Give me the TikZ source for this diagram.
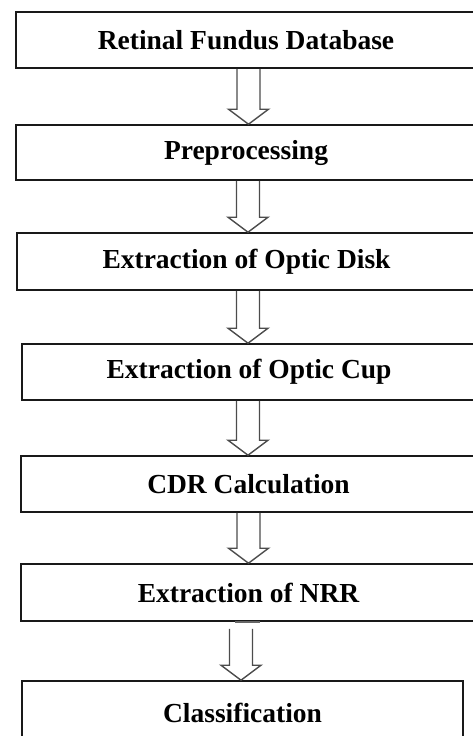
\documentclass[tikz,border=0pt]{standalone}
\usepackage{fontspec}
\setmainfont{Liberation Serif}
\usetikzlibrary{calc}
\tikzset{
  stepbox/.style={draw=black!90, line width=1.6pt, fill=white, inner sep=0pt,
    font=\fontsize{27.5}{30}\selectfont\bfseries, text=black},
  harrow/.style={draw=black!70, line width=1.4pt, line join=miter}
}
\newcommand\hollowarrow[4]{% from node, to node, x centre, start gap
  \draw[harrow] let \p1=(#1.south), \p2=(#2.north) in
    ({#3pt-11.5pt},{\y1-#4pt}) -- ({#3pt-11.5pt},{\y2+15pt}) -- ({#3pt-20pt},{\y2+15pt})
    -- ({#3pt},{\y2}) -- ({#3pt+20pt},{\y2+15pt}) -- ({#3pt+11.5pt},{\y2+15pt})
    -- ({#3pt+11.5pt},{\y1-#4pt});
}
\begin{document}
\begin{tikzpicture}[x=1pt,y=-1pt]
\useasboundingbox (0,0) rectangle (472,736);
\node[stepbox, minimum width=460pt, minimum height=56pt] (b1) at (246,40) {Retinal Fundus Database};
\node[stepbox, minimum width=460pt, minimum height=55pt] (b2) at (246,152.5) {Preprocessing};
\node[stepbox, minimum width=459pt, minimum height=57pt] (b3) at (246.5,261.5) {Extraction of Optic Disk};
\node[stepbox, minimum width=454pt, minimum height=56pt] (b4) at (249,372) {Extraction of Optic Cup};
\node[stepbox, minimum width=455pt, minimum height=56pt] (b5) at (248.5,484) {CDR Calculation};
\node[stepbox, minimum width=455pt, minimum height=57pt] (b6) at (248.5,592.5) {Extraction of NRR};
\node[stepbox, minimum width=441pt, minimum height=64pt, text depth=0pt] (b7) at (242.5,713) {Classification};
\hollowarrow{b1}{b2}{248.5}{0}
\hollowarrow{b2}{b3}{248}{0}
\hollowarrow{b3}{b4}{248}{0}
\hollowarrow{b4}{b5}{248}{0}
\hollowarrow{b5}{b6}{248.5}{0}
\hollowarrow{b6}{b7}{241}{7}
\draw[black!60, line width=2pt] ($(b6.south)+(-13.5,0)$) coordinate (r1) -- ($(b6.south)+(11.5,0)$) coordinate (r2);
\end{tikzpicture}
\end{document}
